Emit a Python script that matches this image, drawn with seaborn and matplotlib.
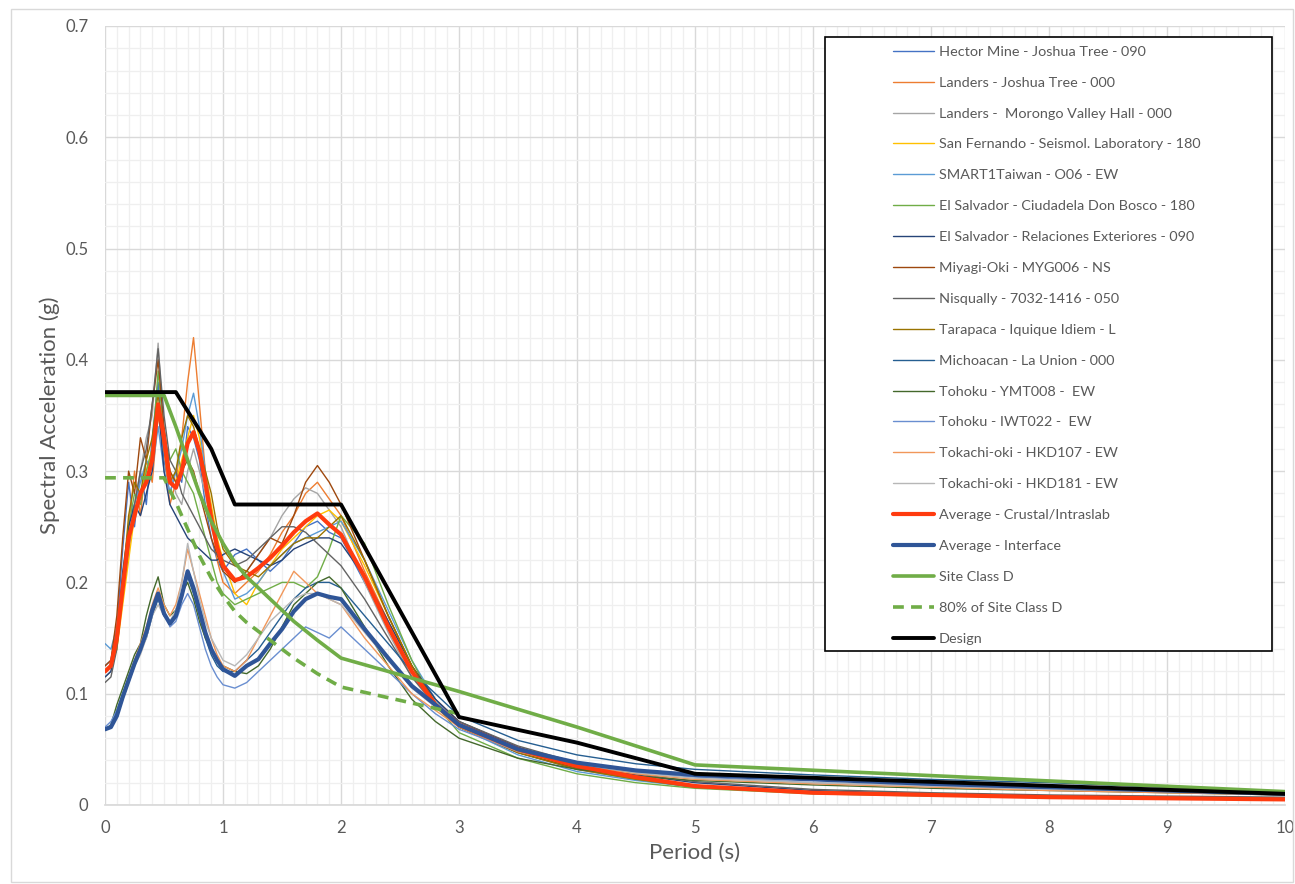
import matplotlib
matplotlib.use("Agg")
import matplotlib.pyplot as plt
from matplotlib.patches import Rectangle
from matplotlib.ticker import MultipleLocator, FuncFormatter
import seaborn as sns

# periods (s) shared by every spectrum
periods = [0, 0.05, 0.1, 0.15, 0.2, 0.25, 0.3, 0.35, 0.4, 0.45,
           0.5, 0.55, 0.6, 0.65, 0.7, 0.75, 0.8, 0.85, 0.9, 0.95,
           1.0, 1.1, 1.2, 1.3, 1.4, 1.5, 1.6, 1.7, 1.8, 1.9,
           2.0, 2.2, 2.4, 2.6, 2.8, 3.0, 3.5, 4.0, 4.5, 5.0,
           6.0, 7.0, 8.0, 9.0, 10.0]

record_names = [
    "Hector Mine - Joshua Tree - 090",
    "Landers - Joshua Tree - 000",
    "Landers -  Morongo Valley Hall - 000",
    "San Fernando - Seismol. Laboratory - 180",
    "SMART1Taiwan - O06 - EW",
    "El Salvador - Ciudadela Don Bosco - 180",
    "El Salvador - Relaciones Exteriores - 090",
    "Miyagi-Oki - MYG006 - NS",
    "Nisqually - 7032-1416 - 050",
    "Tarapaca - Iquique Idiem - L",
    "Michoacan - La Union - 000",
    "Tohoku - YMT008 -  EW",
    "Tohoku - IWT022 -  EW",
    "Tokachi-oki - HKD107 - EW",
    "Tokachi-oki - HKD181 - EW",
]
record_colors = ["#4472C4", "#ED7D31", "#A5A5A5", "#FFC000", "#5B9BD5",
                 "#70AD47", "#264478", "#9E480E", "#636363", "#997300",
                 "#255E91", "#43682B", "#698ED0", "#F1975A", "#B7B7B7"]

hector_mine = [0.125, 0.13, 0.16, 0.23, 0.29, 0.25, 0.3, 0.27, 0.33, 0.38,
               0.31, 0.28, 0.3, 0.29, 0.34, 0.33, 0.31, 0.27, 0.24, 0.22,
               0.21, 0.225, 0.23, 0.22, 0.21, 0.22, 0.235, 0.25, 0.255, 0.245,
               0.24, 0.2, 0.16, 0.12, 0.09, 0.07, 0.047, 0.032, 0.023, 0.016,
               0.011, 0.009, 0.007, 0.006, 0.005]
landers_jt = [0.12, 0.125, 0.14, 0.19, 0.25, 0.3, 0.26, 0.31, 0.29, 0.35,
              0.32, 0.27, 0.29, 0.33, 0.38, 0.42, 0.36, 0.3, 0.26, 0.22,
              0.2, 0.19, 0.2, 0.21, 0.225, 0.245, 0.26, 0.28, 0.29, 0.275,
              0.26, 0.21, 0.165, 0.125, 0.095, 0.075, 0.05, 0.034, 0.024, 0.017,
              0.011, 0.009, 0.007, 0.006, 0.005]
landers_mvh = [0.115, 0.12, 0.15, 0.2, 0.24, 0.27, 0.3, 0.33, 0.35, 0.415,
               0.33, 0.3, 0.28, 0.27, 0.3, 0.32, 0.3, 0.28, 0.25, 0.23,
               0.215, 0.2, 0.21, 0.225, 0.24, 0.26, 0.275, 0.285, 0.28, 0.265,
               0.25, 0.2, 0.155, 0.115, 0.088, 0.07, 0.048, 0.033, 0.023, 0.016,
               0.011, 0.009, 0.007, 0.006, 0.005]
san_fernando = [0.12, 0.125, 0.14, 0.18, 0.22, 0.26, 0.28, 0.3, 0.32, 0.35,
                0.33, 0.3, 0.29, 0.31, 0.33, 0.35, 0.33, 0.3, 0.27, 0.24,
                0.22, 0.19, 0.18, 0.2, 0.215, 0.23, 0.24, 0.25, 0.26, 0.265,
                0.255, 0.215, 0.17, 0.125, 0.092, 0.072, 0.048, 0.033, 0.024, 0.017,
                0.011, 0.009, 0.007, 0.006, 0.005]
smart1 = [0.145, 0.14, 0.16, 0.2, 0.24, 0.27, 0.29, 0.31, 0.3, 0.34,
          0.3, 0.28, 0.3, 0.32, 0.35, 0.37, 0.34, 0.3, 0.26, 0.23,
          0.21, 0.185, 0.19, 0.2, 0.215, 0.225, 0.235, 0.24, 0.245, 0.25,
          0.255, 0.22, 0.175, 0.13, 0.095, 0.07, 0.045, 0.03, 0.022, 0.016,
          0.011, 0.009, 0.007, 0.006, 0.005]
salvador_cdb = [0.12, 0.125, 0.15, 0.2, 0.25, 0.28, 0.27, 0.3, 0.32, 0.39,
                0.33, 0.31, 0.32, 0.3, 0.29, 0.28, 0.26, 0.24, 0.22, 0.2,
                0.19, 0.18, 0.185, 0.19, 0.195, 0.2, 0.2, 0.195, 0.205, 0.23,
                0.26, 0.235, 0.18, 0.13, 0.09, 0.065, 0.042, 0.028, 0.02, 0.015,
                0.01, 0.008, 0.007, 0.006, 0.005]
salvador_re = [0.115, 0.12, 0.15, 0.21, 0.25, 0.27, 0.26, 0.28, 0.3, 0.36,
               0.3, 0.27, 0.26, 0.25, 0.24, 0.235, 0.23, 0.225, 0.22, 0.22,
               0.225, 0.23, 0.225, 0.22, 0.215, 0.22, 0.23, 0.235, 0.24, 0.24,
               0.235, 0.205, 0.165, 0.125, 0.095, 0.075, 0.052, 0.036, 0.027, 0.02,
               0.013, 0.01, 0.008, 0.007, 0.006]
miyagi_oki = [0.125, 0.13, 0.17, 0.24, 0.3, 0.28, 0.33, 0.31, 0.36, 0.4,
              0.34, 0.3, 0.29, 0.3, 0.31, 0.3, 0.28, 0.26, 0.24, 0.225,
              0.21, 0.2, 0.21, 0.225, 0.24, 0.235, 0.26, 0.29, 0.305, 0.29,
              0.27, 0.22, 0.17, 0.125, 0.092, 0.07, 0.047, 0.033, 0.024, 0.017,
              0.011, 0.009, 0.007, 0.006, 0.005]
nisqually = [0.11, 0.115, 0.14, 0.19, 0.23, 0.27, 0.3, 0.32, 0.36, 0.41,
             0.35, 0.31, 0.3, 0.28, 0.27, 0.26, 0.25, 0.24, 0.23, 0.225,
             0.22, 0.215, 0.22, 0.23, 0.24, 0.25, 0.25, 0.245, 0.235, 0.225,
             0.215, 0.185, 0.15, 0.115, 0.09, 0.075, 0.053, 0.038, 0.028, 0.021,
             0.014, 0.011, 0.009, 0.008, 0.007]
tarapaca = [0.12, 0.125, 0.15, 0.2, 0.26, 0.29, 0.28, 0.31, 0.33, 0.37,
            0.32, 0.29, 0.3, 0.33, 0.35, 0.34, 0.32, 0.3, 0.28, 0.25,
            0.23, 0.215, 0.21, 0.205, 0.215, 0.225, 0.235, 0.24, 0.24, 0.25,
            0.26, 0.22, 0.17, 0.125, 0.09, 0.07, 0.047, 0.032, 0.023, 0.016,
            0.011, 0.009, 0.007, 0.006, 0.005]
michoacan = [0.068, 0.07, 0.085, 0.1, 0.115, 0.13, 0.14, 0.15, 0.17, 0.185,
             0.17, 0.165, 0.17, 0.19, 0.205, 0.19, 0.17, 0.15, 0.135, 0.125,
             0.12, 0.12, 0.13, 0.14, 0.155, 0.17, 0.185, 0.195, 0.2, 0.2,
             0.195, 0.17, 0.145, 0.12, 0.1, 0.08, 0.058, 0.045, 0.037, 0.032,
             0.027, 0.023, 0.02, 0.016, 0.012]
tohoku_ymt = [0.068, 0.072, 0.09, 0.105, 0.12, 0.135, 0.145, 0.17, 0.19, 0.205,
              0.18, 0.17, 0.175, 0.19, 0.2, 0.185, 0.165, 0.15, 0.14, 0.13,
              0.125, 0.12, 0.118, 0.125, 0.14, 0.16, 0.18, 0.19, 0.2, 0.205,
              0.195, 0.16, 0.125, 0.095, 0.075, 0.06, 0.042, 0.032, 0.026, 0.022,
              0.018, 0.015, 0.013, 0.011, 0.009]
tohoku_iwt = [0.07, 0.075, 0.085, 0.095, 0.11, 0.125, 0.14, 0.155, 0.175, 0.19,
              0.175, 0.16, 0.165, 0.18, 0.19, 0.18, 0.16, 0.14, 0.125, 0.115,
              0.108, 0.105, 0.11, 0.12, 0.13, 0.14, 0.15, 0.16, 0.155, 0.15,
              0.16, 0.14, 0.12, 0.1, 0.082, 0.068, 0.048, 0.036, 0.029, 0.025,
              0.02, 0.017, 0.014, 0.012, 0.01]
tokachi_107 = [0.068, 0.07, 0.08, 0.095, 0.115, 0.13, 0.145, 0.16, 0.18, 0.195,
               0.18, 0.17, 0.18, 0.2, 0.23, 0.21, 0.19, 0.17, 0.15, 0.135,
               0.125, 0.12, 0.13, 0.15, 0.17, 0.19, 0.21, 0.2, 0.19, 0.185,
               0.18, 0.15, 0.125, 0.1, 0.085, 0.07, 0.048, 0.035, 0.028, 0.023,
               0.019, 0.016, 0.013, 0.011, 0.009]
tokachi_181 = [0.068, 0.07, 0.08, 0.095, 0.11, 0.125, 0.135, 0.15, 0.17, 0.18,
               0.17, 0.165, 0.175, 0.2, 0.235, 0.21, 0.185, 0.165, 0.15, 0.14,
               0.13, 0.125, 0.135, 0.15, 0.165, 0.175, 0.185, 0.19, 0.19, 0.185,
               0.18, 0.155, 0.13, 0.105, 0.088, 0.072, 0.05, 0.037, 0.029, 0.024,
               0.02, 0.017, 0.014, 0.012, 0.01]

records = [hector_mine, landers_jt, landers_mvh, san_fernando, smart1,
           salvador_cdb, salvador_re, miyagi_oki, nisqually, tarapaca,
           michoacan, tohoku_ymt, tohoku_iwt, tokachi_107, tokachi_181]

avg_crustal = [0.12, 0.125, 0.15, 0.195, 0.24, 0.26, 0.28, 0.29, 0.31, 0.36,
               0.33, 0.29, 0.285, 0.3, 0.325, 0.335, 0.318, 0.29, 0.258, 0.232,
               0.215, 0.202, 0.205, 0.213, 0.222, 0.233, 0.245, 0.255, 0.262, 0.252,
               0.243, 0.205, 0.16, 0.12, 0.09, 0.072, 0.05, 0.035, 0.025, 0.017,
               0.011, 0.009, 0.007, 0.006, 0.005]
avg_interface = [0.068, 0.07, 0.08, 0.097, 0.112, 0.127, 0.14, 0.155, 0.175, 0.19,
                 0.172, 0.163, 0.17, 0.188, 0.21, 0.195, 0.175, 0.155, 0.14, 0.13,
                 0.122, 0.116, 0.125, 0.131, 0.145, 0.158, 0.174, 0.185, 0.19, 0.187,
                 0.185, 0.158, 0.132, 0.107, 0.09, 0.072, 0.05, 0.038, 0.031, 0.027,
                 0.023, 0.019, 0.016, 0.013, 0.01]

# target spectra
site_T = [0, 0.5, 0.6, 0.7, 0.8, 0.9, 1.0, 1.1, 1.2, 1.4, 1.6, 1.8, 2.0, 3.0, 4.0, 5.0, 10.0]
site_d = [0.368, 0.368, 0.34, 0.31, 0.28, 0.255, 0.235, 0.218, 0.205, 0.185, 0.165,
          0.148, 0.132, 0.102, 0.07, 0.036, 0.012]
site_80_T = [0, 0.5, 0.6, 0.7, 0.8, 0.9, 1.0, 1.1, 1.2, 1.4, 1.6, 1.8, 2.0, 3.0]
site_80 = [0.294, 0.294, 0.272, 0.248, 0.224, 0.204, 0.188, 0.174, 0.164, 0.148,
           0.132, 0.118, 0.106, 0.082]
design_T = [0, 0.6, 0.9, 1.1, 2.0, 3.0, 4.0, 5.0, 10.0]
design = [0.371, 0.371, 0.32, 0.27, 0.27, 0.079, 0.056, 0.028, 0.01]

sns.set_theme(style="white")
plt.rcParams["font.family"] = ["Lato", "DejaVu Sans"]

fig = plt.figure(figsize=(12.95, 8.84), dpi=100)
ax = fig.add_axes([0.0811, 0.0894, 0.9112, 0.8812])

for name, vals, col in zip(record_names, records, record_colors):
    sns.lineplot(x=periods, y=vals, color=col, lw=1.0, label=name, sort=False, ax=ax)

sns.lineplot(x=periods, y=avg_crustal, color="#FF3B0F", lw=3.0,
             label="Average - Crustal/Intraslab", sort=False, ax=ax)
sns.lineplot(x=periods, y=avg_interface, color="#2F5597", lw=3.0,
             label="Average - Interface", sort=False, ax=ax)
sns.lineplot(x=site_T, y=site_d, color="#70AD47", lw=2.6,
             label="Site Class D", sort=False, ax=ax)
sns.lineplot(x=site_80_T, y=site_80, color="#70AD47", lw=2.6,
             label="80% of Site Class D", sort=False, ax=ax)
ax.lines[-1].set_linestyle((0, (3, 2)))
sns.lineplot(x=design_T, y=design, color="black", lw=2.8,
             label="Design", sort=False, ax=ax)

ax.set_xlim(0, 10)
ax.set_ylim(0, 0.7)
ax.xaxis.set_major_locator(MultipleLocator(1))
ax.xaxis.set_minor_locator(MultipleLocator(0.1))
ax.yaxis.set_major_locator(MultipleLocator(0.1))
ax.yaxis.set_minor_locator(MultipleLocator(0.02))
ax.yaxis.set_major_formatter(FuncFormatter(lambda v, p: "0" if abs(v) < 1e-9 else f"{v:.1f}"))
ax.grid(which="major", color="#D9D9D9", lw=1.0)
ax.grid(which="minor", color="#EFEFEF", lw=0.9)
ax.set_axisbelow(True)
ax.tick_params(which="both", length=0, colors="#595959", labelsize=12)
ax.tick_params(axis="y", pad=12)
ax.tick_params(axis="x", pad=11)
for s in ["top", "right", "left"]:
    ax.spines[s].set_visible(False)
ax.spines["bottom"].set_color("#D9D9D9")

ax.set_xlabel("Period (s)", fontsize=16, color="#595959", labelpad=5)
ax.set_ylabel("Spectral Acceleration (g)", fontsize=16, color="#595959", labelpad=4)

# legend box with entries offset to the right like the original
box = Rectangle((0.610, 0.198), 0.379, 0.788, transform=ax.transAxes,
                facecolor="white", edgecolor="black", lw=1.2, zorder=4)
ax.add_patch(box)
handles, labels = ax.get_legend_handles_labels()
leg = ax.legend(handles, labels, loc="upper left", bbox_to_anchor=(0.662, 0.984),
                frameon=False, fontsize=10.4, handlelength=2.8, handletextpad=0.35,
                labelspacing=1.3, borderpad=0)
leg.set_zorder(5)
for t in leg.get_texts():
    t.set_color("#595959")

fig.patches.append(Rectangle((0.0085, 0.002), 0.99, 0.988, transform=fig.transFigure,
                             fill=False, edgecolor="#D9D9D9", lw=1.0))

fig.savefig("out.png", dpi=100)
